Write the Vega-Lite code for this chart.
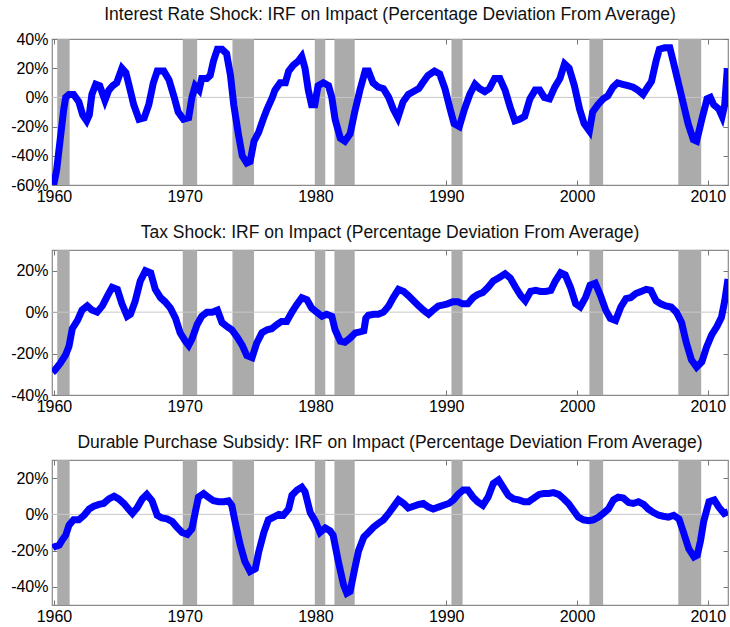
{
  "$schema": "https://vega.github.io/schema/vega-lite/v6.json",
  "padding": {"left": 10, "top": 4, "right": 0, "bottom": 0},
  "spacing": 18,
  "config": {
    "font": "Liberation Sans",
    "view": {"stroke": "#8a8a8a", "strokeWidth": 1.2},
    "axis": {
      "domain": false,
      "grid": false,
      "ticks": true,
      "tickSize": -5,
      "tickColor": "#777777",
      "labelFont": "Liberation Sans",
      "labelFontSize": 16,
      "labelColor": "#000000",
      "title": null
    },
    "title": {"font": "Liberation Sans", "fontSize": 17.5, "fontWeight": "normal", "color": "#111111", "offset": 8}
  },
  "datasets": {
    "rec": [
      {"s": 1960.25, "e": 1961.2},
      {"s": 1969.85, "e": 1970.95},
      {"s": 1973.65, "e": 1975.3},
      {"s": 1979.95, "e": 1980.75},
      {"s": 1981.45, "e": 1983.0},
      {"s": 1990.4, "e": 1991.25},
      {"s": 2000.95, "e": 2002.0},
      {"s": 2007.75, "e": 2009.5}
    ],
    "irf": [
      {"p": "a", "t": 1959.9, "v": -60}, {"p": "a", "t": 1960.0, "v": -59}, {"p": "a", "t": 1960.2, "v": -50}, {"p": "a", "t": 1960.5, "v": -27}, {"p": "a", "t": 1960.75, "v": -8}, {"p": "a", "t": 1960.9, "v": 0}, {"p": "a", "t": 1961.15, "v": 2}, {"p": "a", "t": 1961.5, "v": 2}, {"p": "a", "t": 1961.9, "v": -3}, {"p": "a", "t": 1962.2, "v": -12}, {"p": "a", "t": 1962.5, "v": -16}, {"p": "a", "t": 1962.7, "v": -12}, {"p": "a", "t": 1962.9, "v": 2}, {"p": "a", "t": 1963.2, "v": 9}, {"p": "a", "t": 1963.5, "v": 8}, {"p": "a", "t": 1963.9, "v": -2}, {"p": "a", "t": 1964.2, "v": 5}, {"p": "a", "t": 1964.5, "v": 8}, {"p": "a", "t": 1964.8, "v": 10}, {"p": "a", "t": 1965.2, "v": 20}, {"p": "a", "t": 1965.5, "v": 17}, {"p": "a", "t": 1965.75, "v": 8}, {"p": "a", "t": 1966.1, "v": -5}, {"p": "a", "t": 1966.5, "v": -15}, {"p": "a", "t": 1966.9, "v": -14}, {"p": "a", "t": 1967.25, "v": -5}, {"p": "a", "t": 1967.6, "v": 10}, {"p": "a", "t": 1967.9, "v": 18}, {"p": "a", "t": 1968.4, "v": 18}, {"p": "a", "t": 1968.8, "v": 12}, {"p": "a", "t": 1969.2, "v": 0}, {"p": "a", "t": 1969.5, "v": -10}, {"p": "a", "t": 1969.9, "v": -15}, {"p": "a", "t": 1970.3, "v": -14}, {"p": "a", "t": 1970.55, "v": 0}, {"p": "a", "t": 1970.8, "v": 8}, {"p": "a", "t": 1971.1, "v": 5}, {"p": "a", "t": 1971.3, "v": 13}, {"p": "a", "t": 1971.7, "v": 13}, {"p": "a", "t": 1971.95, "v": 15}, {"p": "a", "t": 1972.2, "v": 25}, {"p": "a", "t": 1972.5, "v": 33}, {"p": "a", "t": 1972.85, "v": 33}, {"p": "a", "t": 1973.2, "v": 30}, {"p": "a", "t": 1973.5, "v": 15}, {"p": "a", "t": 1973.75, "v": -5}, {"p": "a", "t": 1974.1, "v": -25}, {"p": "a", "t": 1974.4, "v": -40}, {"p": "a", "t": 1974.75, "v": -45}, {"p": "a", "t": 1975.0, "v": -44}, {"p": "a", "t": 1975.3, "v": -30}, {"p": "a", "t": 1975.65, "v": -24}, {"p": "a", "t": 1976.0, "v": -15}, {"p": "a", "t": 1976.3, "v": -8}, {"p": "a", "t": 1976.7, "v": 0}, {"p": "a", "t": 1976.9, "v": 5}, {"p": "a", "t": 1977.3, "v": 10}, {"p": "a", "t": 1977.7, "v": 10}, {"p": "a", "t": 1977.95, "v": 18}, {"p": "a", "t": 1978.3, "v": 22}, {"p": "a", "t": 1978.7, "v": 25}, {"p": "a", "t": 1978.95, "v": 28}, {"p": "a", "t": 1979.2, "v": 20}, {"p": "a", "t": 1979.45, "v": 5}, {"p": "a", "t": 1979.7, "v": -5}, {"p": "a", "t": 1979.95, "v": -5}, {"p": "a", "t": 1980.2, "v": 8}, {"p": "a", "t": 1980.6, "v": 10}, {"p": "a", "t": 1981.0, "v": 8}, {"p": "a", "t": 1981.25, "v": 0}, {"p": "a", "t": 1981.5, "v": -15}, {"p": "a", "t": 1981.9, "v": -28}, {"p": "a", "t": 1982.25, "v": -30}, {"p": "a", "t": 1982.65, "v": -25}, {"p": "a", "t": 1983.0, "v": -10}, {"p": "a", "t": 1983.4, "v": 5}, {"p": "a", "t": 1983.8, "v": 18}, {"p": "a", "t": 1984.05, "v": 18}, {"p": "a", "t": 1984.4, "v": 10}, {"p": "a", "t": 1984.8, "v": 7}, {"p": "a", "t": 1985.2, "v": 6}, {"p": "a", "t": 1985.6, "v": 0}, {"p": "a", "t": 1985.95, "v": -8}, {"p": "a", "t": 1986.3, "v": -14}, {"p": "a", "t": 1986.7, "v": -3}, {"p": "a", "t": 1987.1, "v": 2}, {"p": "a", "t": 1987.5, "v": 4}, {"p": "a", "t": 1987.9, "v": 6}, {"p": "a", "t": 1988.2, "v": 10}, {"p": "a", "t": 1988.6, "v": 15}, {"p": "a", "t": 1989.1, "v": 18}, {"p": "a", "t": 1989.5, "v": 16}, {"p": "a", "t": 1989.9, "v": 6}, {"p": "a", "t": 1990.3, "v": -8}, {"p": "a", "t": 1990.6, "v": -18}, {"p": "a", "t": 1991.0, "v": -20}, {"p": "a", "t": 1991.4, "v": -8}, {"p": "a", "t": 1991.8, "v": 2}, {"p": "a", "t": 1992.2, "v": 9}, {"p": "a", "t": 1992.55, "v": 6}, {"p": "a", "t": 1992.95, "v": 4}, {"p": "a", "t": 1993.3, "v": 6}, {"p": "a", "t": 1993.7, "v": 13}, {"p": "a", "t": 1994.1, "v": 13}, {"p": "a", "t": 1994.5, "v": 5}, {"p": "a", "t": 1994.9, "v": -7}, {"p": "a", "t": 1995.25, "v": -16}, {"p": "a", "t": 1995.6, "v": -15}, {"p": "a", "t": 1996.0, "v": -13}, {"p": "a", "t": 1996.4, "v": -1}, {"p": "a", "t": 1996.8, "v": 5}, {"p": "a", "t": 1997.15, "v": 5}, {"p": "a", "t": 1997.5, "v": 0}, {"p": "a", "t": 1997.9, "v": -1}, {"p": "a", "t": 1998.3, "v": 7}, {"p": "a", "t": 1998.7, "v": 13}, {"p": "a", "t": 1999.05, "v": 23}, {"p": "a", "t": 1999.4, "v": 20}, {"p": "a", "t": 1999.8, "v": 8}, {"p": "a", "t": 2000.2, "v": -8}, {"p": "a", "t": 2000.55, "v": -18}, {"p": "a", "t": 2000.95, "v": -23}, {"p": "a", "t": 2001.2, "v": -10}, {"p": "a", "t": 2001.6, "v": -5}, {"p": "a", "t": 2002.0, "v": -1}, {"p": "a", "t": 2002.35, "v": 1}, {"p": "a", "t": 2002.75, "v": 7}, {"p": "a", "t": 2003.1, "v": 10}, {"p": "a", "t": 2003.5, "v": 9}, {"p": "a", "t": 2003.9, "v": 8}, {"p": "a", "t": 2004.3, "v": 7}, {"p": "a", "t": 2004.65, "v": 5}, {"p": "a", "t": 2005.05, "v": 2}, {"p": "a", "t": 2005.4, "v": 7}, {"p": "a", "t": 2005.7, "v": 11}, {"p": "a", "t": 2006.05, "v": 25}, {"p": "a", "t": 2006.3, "v": 33}, {"p": "a", "t": 2006.7, "v": 34}, {"p": "a", "t": 2007.1, "v": 34}, {"p": "a", "t": 2007.35, "v": 25}, {"p": "a", "t": 2007.75, "v": 10}, {"p": "a", "t": 2008.1, "v": -3}, {"p": "a", "t": 2008.5, "v": -18}, {"p": "a", "t": 2008.9, "v": -29}, {"p": "a", "t": 2009.15, "v": -30}, {"p": "a", "t": 2009.55, "v": -15}, {"p": "a", "t": 2009.95, "v": -1}, {"p": "a", "t": 2010.2, "v": 0}, {"p": "a", "t": 2010.45, "v": -5}, {"p": "a", "t": 2010.85, "v": -8}, {"p": "a", "t": 2011.1, "v": -13}, {"p": "a", "t": 2011.3, "v": -5}, {"p": "a", "t": 2011.5, "v": 20},
      {"p": "b", "t": 1959.9, "v": -29}, {"p": "b", "t": 1960.0, "v": -28.5}, {"p": "b", "t": 1960.5, "v": -24.5}, {"p": "b", "t": 1960.9, "v": -20.5}, {"p": "b", "t": 1961.15, "v": -16.5}, {"p": "b", "t": 1961.4, "v": -8}, {"p": "b", "t": 1961.8, "v": -4}, {"p": "b", "t": 1962.15, "v": 1}, {"p": "b", "t": 1962.55, "v": 3}, {"p": "b", "t": 1962.9, "v": 1}, {"p": "b", "t": 1963.3, "v": 0}, {"p": "b", "t": 1963.7, "v": 3}, {"p": "b", "t": 1964.1, "v": 8}, {"p": "b", "t": 1964.45, "v": 12}, {"p": "b", "t": 1964.85, "v": 11}, {"p": "b", "t": 1965.2, "v": 4}, {"p": "b", "t": 1965.6, "v": -2}, {"p": "b", "t": 1965.85, "v": -1}, {"p": "b", "t": 1966.2, "v": 5}, {"p": "b", "t": 1966.6, "v": 15}, {"p": "b", "t": 1967.0, "v": 20}, {"p": "b", "t": 1967.4, "v": 19}, {"p": "b", "t": 1967.75, "v": 11}, {"p": "b", "t": 1968.15, "v": 7}, {"p": "b", "t": 1968.5, "v": 5}, {"p": "b", "t": 1968.9, "v": 2}, {"p": "b", "t": 1969.3, "v": -3}, {"p": "b", "t": 1969.65, "v": -10}, {"p": "b", "t": 1970.05, "v": -14}, {"p": "b", "t": 1970.3, "v": -16}, {"p": "b", "t": 1970.55, "v": -13}, {"p": "b", "t": 1970.95, "v": -6}, {"p": "b", "t": 1971.3, "v": -2}, {"p": "b", "t": 1971.7, "v": 0}, {"p": "b", "t": 1972.1, "v": 0}, {"p": "b", "t": 1972.5, "v": 1}, {"p": "b", "t": 1972.85, "v": -5}, {"p": "b", "t": 1973.25, "v": -7}, {"p": "b", "t": 1973.6, "v": -8.5}, {"p": "b", "t": 1974.0, "v": -12}, {"p": "b", "t": 1974.4, "v": -16}, {"p": "b", "t": 1974.75, "v": -21}, {"p": "b", "t": 1975.15, "v": -22}, {"p": "b", "t": 1975.5, "v": -15}, {"p": "b", "t": 1975.9, "v": -10}, {"p": "b", "t": 1976.3, "v": -8.5}, {"p": "b", "t": 1976.65, "v": -8}, {"p": "b", "t": 1977.05, "v": -6}, {"p": "b", "t": 1977.4, "v": -4.5}, {"p": "b", "t": 1977.8, "v": -4.5}, {"p": "b", "t": 1978.2, "v": 0}, {"p": "b", "t": 1978.55, "v": 3.5}, {"p": "b", "t": 1978.95, "v": 7}, {"p": "b", "t": 1979.35, "v": 6}, {"p": "b", "t": 1979.7, "v": 2}, {"p": "b", "t": 1980.1, "v": 0}, {"p": "b", "t": 1980.5, "v": -2}, {"p": "b", "t": 1980.85, "v": -1}, {"p": "b", "t": 1981.25, "v": -2}, {"p": "b", "t": 1981.5, "v": -8.5}, {"p": "b", "t": 1981.9, "v": -14}, {"p": "b", "t": 1982.25, "v": -14.5}, {"p": "b", "t": 1982.65, "v": -12.5}, {"p": "b", "t": 1983.05, "v": -10}, {"p": "b", "t": 1983.4, "v": -9.5}, {"p": "b", "t": 1983.7, "v": -9}, {"p": "b", "t": 1983.85, "v": -3}, {"p": "b", "t": 1984.05, "v": -1.5}, {"p": "b", "t": 1984.45, "v": -1}, {"p": "b", "t": 1984.8, "v": -1}, {"p": "b", "t": 1985.2, "v": 0}, {"p": "b", "t": 1985.6, "v": 3}, {"p": "b", "t": 1985.95, "v": 7}, {"p": "b", "t": 1986.35, "v": 11}, {"p": "b", "t": 1986.75, "v": 10}, {"p": "b", "t": 1987.1, "v": 8}, {"p": "b", "t": 1987.5, "v": 5.5}, {"p": "b", "t": 1987.9, "v": 3}, {"p": "b", "t": 1988.25, "v": 1}, {"p": "b", "t": 1988.65, "v": -1}, {"p": "b", "t": 1989.0, "v": 1}, {"p": "b", "t": 1989.4, "v": 3}, {"p": "b", "t": 1989.8, "v": 3.5}, {"p": "b", "t": 1990.1, "v": 4}, {"p": "b", "t": 1990.5, "v": 5}, {"p": "b", "t": 1990.9, "v": 5}, {"p": "b", "t": 1991.25, "v": 4}, {"p": "b", "t": 1991.65, "v": 4}, {"p": "b", "t": 1992.05, "v": 7}, {"p": "b", "t": 1992.4, "v": 8.5}, {"p": "b", "t": 1992.8, "v": 9.5}, {"p": "b", "t": 1993.2, "v": 12}, {"p": "b", "t": 1993.6, "v": 15}, {"p": "b", "t": 1994.0, "v": 16.5}, {"p": "b", "t": 1994.5, "v": 18.5}, {"p": "b", "t": 1994.9, "v": 16.5}, {"p": "b", "t": 1995.3, "v": 12}, {"p": "b", "t": 1995.7, "v": 8}, {"p": "b", "t": 1996.05, "v": 5.5}, {"p": "b", "t": 1996.45, "v": 10}, {"p": "b", "t": 1996.85, "v": 10.5}, {"p": "b", "t": 1997.2, "v": 10}, {"p": "b", "t": 1997.6, "v": 10}, {"p": "b", "t": 1998.0, "v": 10.5}, {"p": "b", "t": 1998.35, "v": 15}, {"p": "b", "t": 1998.75, "v": 19}, {"p": "b", "t": 1999.1, "v": 18}, {"p": "b", "t": 1999.5, "v": 12}, {"p": "b", "t": 1999.9, "v": 4}, {"p": "b", "t": 2000.25, "v": 2.5}, {"p": "b", "t": 2000.65, "v": 7}, {"p": "b", "t": 2001.0, "v": 13}, {"p": "b", "t": 2001.4, "v": 14}, {"p": "b", "t": 2001.8, "v": 8}, {"p": "b", "t": 2002.2, "v": 1}, {"p": "b", "t": 2002.55, "v": -3}, {"p": "b", "t": 2002.95, "v": -4}, {"p": "b", "t": 2003.35, "v": 2.5}, {"p": "b", "t": 2003.75, "v": 6.5}, {"p": "b", "t": 2004.1, "v": 7}, {"p": "b", "t": 2004.5, "v": 9}, {"p": "b", "t": 2004.9, "v": 10}, {"p": "b", "t": 2005.3, "v": 11}, {"p": "b", "t": 2005.65, "v": 10.5}, {"p": "b", "t": 2006.05, "v": 5.5}, {"p": "b", "t": 2006.4, "v": 4}, {"p": "b", "t": 2006.8, "v": 3}, {"p": "b", "t": 2007.2, "v": 2.5}, {"p": "b", "t": 2007.6, "v": 0}, {"p": "b", "t": 2008.0, "v": -5}, {"p": "b", "t": 2008.35, "v": -14.5}, {"p": "b", "t": 2008.75, "v": -23}, {"p": "b", "t": 2009.15, "v": -26.5}, {"p": "b", "t": 2009.55, "v": -24}, {"p": "b", "t": 2009.9, "v": -17}, {"p": "b", "t": 2010.3, "v": -11}, {"p": "b", "t": 2010.7, "v": -7}, {"p": "b", "t": 2011.05, "v": -2.5}, {"p": "b", "t": 2011.3, "v": 5.5}, {"p": "b", "t": 2011.55, "v": 16},
      {"p": "c", "t": 1959.9, "v": -18.5}, {"p": "c", "t": 1960.0, "v": -18}, {"p": "c", "t": 1960.4, "v": -17}, {"p": "c", "t": 1960.65, "v": -14}, {"p": "c", "t": 1960.9, "v": -11.5}, {"p": "c", "t": 1961.15, "v": -6}, {"p": "c", "t": 1961.5, "v": -3}, {"p": "c", "t": 1961.9, "v": -3}, {"p": "c", "t": 1962.3, "v": -0.5}, {"p": "c", "t": 1962.7, "v": 3}, {"p": "c", "t": 1963.05, "v": 4.5}, {"p": "c", "t": 1963.45, "v": 5.5}, {"p": "c", "t": 1963.8, "v": 6}, {"p": "c", "t": 1964.2, "v": 8.5}, {"p": "c", "t": 1964.6, "v": 10}, {"p": "c", "t": 1964.95, "v": 8.5}, {"p": "c", "t": 1965.35, "v": 6}, {"p": "c", "t": 1965.7, "v": 3}, {"p": "c", "t": 1966.0, "v": 0.5}, {"p": "c", "t": 1966.35, "v": 3.5}, {"p": "c", "t": 1966.75, "v": 8.5}, {"p": "c", "t": 1967.1, "v": 11}, {"p": "c", "t": 1967.5, "v": 7.5}, {"p": "c", "t": 1967.9, "v": -0.5}, {"p": "c", "t": 1968.25, "v": -2}, {"p": "c", "t": 1968.65, "v": -2.5}, {"p": "c", "t": 1969.05, "v": -4}, {"p": "c", "t": 1969.4, "v": -7}, {"p": "c", "t": 1969.8, "v": -10}, {"p": "c", "t": 1970.2, "v": -11}, {"p": "c", "t": 1970.55, "v": -8}, {"p": "c", "t": 1970.8, "v": 1}, {"p": "c", "t": 1971.05, "v": 9.5}, {"p": "c", "t": 1971.45, "v": 11.5}, {"p": "c", "t": 1971.8, "v": 9.5}, {"p": "c", "t": 1972.2, "v": 7.5}, {"p": "c", "t": 1972.6, "v": 7}, {"p": "c", "t": 1973.0, "v": 7}, {"p": "c", "t": 1973.35, "v": 7.5}, {"p": "c", "t": 1973.6, "v": 5}, {"p": "c", "t": 1973.85, "v": -4}, {"p": "c", "t": 1974.25, "v": -17}, {"p": "c", "t": 1974.6, "v": -26}, {"p": "c", "t": 1975.0, "v": -31.5}, {"p": "c", "t": 1975.4, "v": -30}, {"p": "c", "t": 1975.65, "v": -21}, {"p": "c", "t": 1976.05, "v": -10}, {"p": "c", "t": 1976.4, "v": -3}, {"p": "c", "t": 1976.8, "v": -1.5}, {"p": "c", "t": 1977.2, "v": 0}, {"p": "c", "t": 1977.55, "v": -0.5}, {"p": "c", "t": 1977.95, "v": 3}, {"p": "c", "t": 1978.2, "v": 10.5}, {"p": "c", "t": 1978.6, "v": 13.5}, {"p": "c", "t": 1978.95, "v": 15}, {"p": "c", "t": 1979.2, "v": 12.5}, {"p": "c", "t": 1979.6, "v": 1}, {"p": "c", "t": 1980.0, "v": -4}, {"p": "c", "t": 1980.35, "v": -10}, {"p": "c", "t": 1980.75, "v": -7.5}, {"p": "c", "t": 1981.1, "v": -9}, {"p": "c", "t": 1981.35, "v": -11.5}, {"p": "c", "t": 1981.75, "v": -26}, {"p": "c", "t": 1982.15, "v": -39}, {"p": "c", "t": 1982.4, "v": -43.5}, {"p": "c", "t": 1982.65, "v": -42.5}, {"p": "c", "t": 1983.0, "v": -30}, {"p": "c", "t": 1983.3, "v": -20}, {"p": "c", "t": 1983.7, "v": -12.5}, {"p": "c", "t": 1984.05, "v": -10}, {"p": "c", "t": 1984.45, "v": -7}, {"p": "c", "t": 1984.8, "v": -5}, {"p": "c", "t": 1985.2, "v": -3}, {"p": "c", "t": 1985.6, "v": 0.5}, {"p": "c", "t": 1985.95, "v": 4}, {"p": "c", "t": 1986.35, "v": 8}, {"p": "c", "t": 1986.75, "v": 6}, {"p": "c", "t": 1987.1, "v": 3.5}, {"p": "c", "t": 1987.5, "v": 4.5}, {"p": "c", "t": 1987.9, "v": 5.5}, {"p": "c", "t": 1988.25, "v": 6}, {"p": "c", "t": 1988.65, "v": 4}, {"p": "c", "t": 1989.0, "v": 3}, {"p": "c", "t": 1989.4, "v": 4}, {"p": "c", "t": 1989.8, "v": 5}, {"p": "c", "t": 1990.2, "v": 6}, {"p": "c", "t": 1990.55, "v": 8}, {"p": "c", "t": 1990.9, "v": 11}, {"p": "c", "t": 1991.3, "v": 13.5}, {"p": "c", "t": 1991.65, "v": 13.5}, {"p": "c", "t": 1992.05, "v": 9.5}, {"p": "c", "t": 1992.4, "v": 7}, {"p": "c", "t": 1992.8, "v": 5}, {"p": "c", "t": 1993.2, "v": 9.5}, {"p": "c", "t": 1993.6, "v": 17}, {"p": "c", "t": 1994.0, "v": 19}, {"p": "c", "t": 1994.35, "v": 15}, {"p": "c", "t": 1994.75, "v": 10.5}, {"p": "c", "t": 1995.15, "v": 8.5}, {"p": "c", "t": 1995.55, "v": 8}, {"p": "c", "t": 1995.95, "v": 7}, {"p": "c", "t": 1996.3, "v": 7}, {"p": "c", "t": 1996.7, "v": 9}, {"p": "c", "t": 1997.1, "v": 11}, {"p": "c", "t": 1997.45, "v": 11.5}, {"p": "c", "t": 1997.85, "v": 11.5}, {"p": "c", "t": 1998.2, "v": 12}, {"p": "c", "t": 1998.6, "v": 11}, {"p": "c", "t": 1999.0, "v": 8.5}, {"p": "c", "t": 1999.35, "v": 6}, {"p": "c", "t": 1999.75, "v": 2}, {"p": "c", "t": 2000.1, "v": -1.5}, {"p": "c", "t": 2000.5, "v": -3}, {"p": "c", "t": 2000.9, "v": -3.5}, {"p": "c", "t": 2001.25, "v": -3}, {"p": "c", "t": 2001.65, "v": -1.5}, {"p": "c", "t": 2002.0, "v": 0.5}, {"p": "c", "t": 2002.4, "v": 3}, {"p": "c", "t": 2002.8, "v": 8}, {"p": "c", "t": 2003.15, "v": 9.5}, {"p": "c", "t": 2003.55, "v": 9}, {"p": "c", "t": 2003.95, "v": 6.5}, {"p": "c", "t": 2004.3, "v": 6}, {"p": "c", "t": 2004.7, "v": 7}, {"p": "c", "t": 2005.1, "v": 5.5}, {"p": "c", "t": 2005.45, "v": 3}, {"p": "c", "t": 2005.85, "v": 1}, {"p": "c", "t": 2006.25, "v": -0.5}, {"p": "c", "t": 2006.6, "v": -1}, {"p": "c", "t": 2007.0, "v": -1.5}, {"p": "c", "t": 2007.4, "v": -0.5}, {"p": "c", "t": 2007.8, "v": -2.5}, {"p": "c", "t": 2008.15, "v": -10}, {"p": "c", "t": 2008.55, "v": -19}, {"p": "c", "t": 2008.95, "v": -23.5}, {"p": "c", "t": 2009.2, "v": -22.5}, {"p": "c", "t": 2009.45, "v": -14.5}, {"p": "c", "t": 2009.7, "v": -3.5}, {"p": "c", "t": 2010.1, "v": 7}, {"p": "c", "t": 2010.5, "v": 8}, {"p": "c", "t": 2010.85, "v": 4}, {"p": "c", "t": 2011.25, "v": 0.5}, {"p": "c", "t": 2011.55, "v": 1.5}
    ]
  },
  "vconcat": [
    {
      "width": 676, "height": 146,
      "title": {"text": "Interest Rate Shock: IRF on Impact (Percentage Deviation From Average)"},
      "layer": [
        {"data": {"name": "rec"}, "mark": {"type": "rect", "color": "#ababab"},
         "encoding": {"x": {"field": "s", "type": "quantitative", "scale": {"domain": [1959.85, 2011.55], "nice": false, "zero": false}, "axis": {"orient": "bottom", "values": [1960, 1970, 1980, 1990, 2000, 2010], "format": "d", "labelPadding": 8}}, "x2": {"field": "e"}}},
        {"data": {"values": [{"z": 0}]}, "mark": {"type": "rule", "color": "#c8c8c8", "strokeWidth": 1},
         "encoding": {"y": {"field": "z", "type": "quantitative", "scale": {"domain": [-60, 40], "nice": false}, "axis": {"orient": "left", "values": [-60, -40, -20, 0, 20, 40], "labelExpr": "datum.value + '%'", "labelPadding": 9}}}},
        {"data": {"name": "irf"}, "transform": [{"filter": "datum.p == 'a'"}], "mark": {"type": "line", "color": "#0000ff", "strokeWidth": 7, "clip": true},
         "encoding": {"x": {"field": "t", "type": "quantitative", "axis": {"orient": "top", "labels": false, "values": [1960, 1970, 1980, 1990, 2000, 2010]}}, "y": {"field": "v", "type": "quantitative", "axis": {"orient": "right", "labels": false, "values": [-60, -40, -20, 0, 20, 40]}}}}
      ],
      "resolve": {"axis": {"x": "independent", "y": "independent"}}
    },
    {
      "width": 676, "height": 145,
      "title": {"text": "Tax Shock: IRF on Impact (Percentage Deviation From Average)"},
      "layer": [
        {"data": {"name": "rec"}, "mark": {"type": "rect", "color": "#ababab"},
         "encoding": {"x": {"field": "s", "type": "quantitative", "scale": {"domain": [1959.85, 2011.55], "nice": false, "zero": false}, "axis": {"orient": "bottom", "values": [1960, 1970, 1980, 1990, 2000, 2010], "format": "d", "labelPadding": 8}}, "x2": {"field": "e"}}},
        {"data": {"values": [{"z": 0}]}, "mark": {"type": "rule", "color": "#c8c8c8", "strokeWidth": 1},
         "encoding": {"y": {"field": "z", "type": "quantitative", "scale": {"domain": [-40, 30], "nice": false}, "axis": {"orient": "left", "values": [-40, -20, 0, 20], "labelExpr": "datum.value + '%'", "labelPadding": 9}}}},
        {"data": {"name": "irf"}, "transform": [{"filter": "datum.p == 'b'"}], "mark": {"type": "line", "color": "#0000ff", "strokeWidth": 7, "clip": true},
         "encoding": {"x": {"field": "t", "type": "quantitative", "axis": {"orient": "top", "labels": false, "values": [1960, 1970, 1980, 1990, 2000, 2010]}}, "y": {"field": "v", "type": "quantitative", "axis": {"orient": "right", "labels": false, "values": [-40, -20, 0, 20]}}}}
      ],
      "resolve": {"axis": {"x": "independent", "y": "independent"}}
    },
    {
      "width": 676, "height": 145,
      "title": {"text": "Durable Purchase Subsidy: IRF on Impact (Percentage Deviation From Average)"},
      "layer": [
        {"data": {"name": "rec"}, "mark": {"type": "rect", "color": "#ababab"},
         "encoding": {"x": {"field": "s", "type": "quantitative", "scale": {"domain": [1959.85, 2011.55], "nice": false, "zero": false}, "axis": {"orient": "bottom", "values": [1960, 1970, 1980, 1990, 2000, 2010], "format": "d", "labelPadding": 8}}, "x2": {"field": "e"}}},
        {"data": {"values": [{"z": 0}]}, "mark": {"type": "rule", "color": "#c8c8c8", "strokeWidth": 1},
         "encoding": {"y": {"field": "z", "type": "quantitative", "scale": {"domain": [-50, 30], "nice": false}, "axis": {"orient": "left", "values": [-40, -20, 0, 20], "labelExpr": "datum.value + '%'", "labelPadding": 9}}}},
        {"data": {"name": "irf"}, "transform": [{"filter": "datum.p == 'c'"}], "mark": {"type": "line", "color": "#0000ff", "strokeWidth": 7, "clip": true},
         "encoding": {"x": {"field": "t", "type": "quantitative", "axis": {"orient": "top", "labels": false, "values": [1960, 1970, 1980, 1990, 2000, 2010]}}, "y": {"field": "v", "type": "quantitative", "axis": {"orient": "right", "labels": false, "values": [-40, -20, 0, 20]}}}}
      ],
      "resolve": {"axis": {"x": "independent", "y": "independent"}}
    }
  ]
}
